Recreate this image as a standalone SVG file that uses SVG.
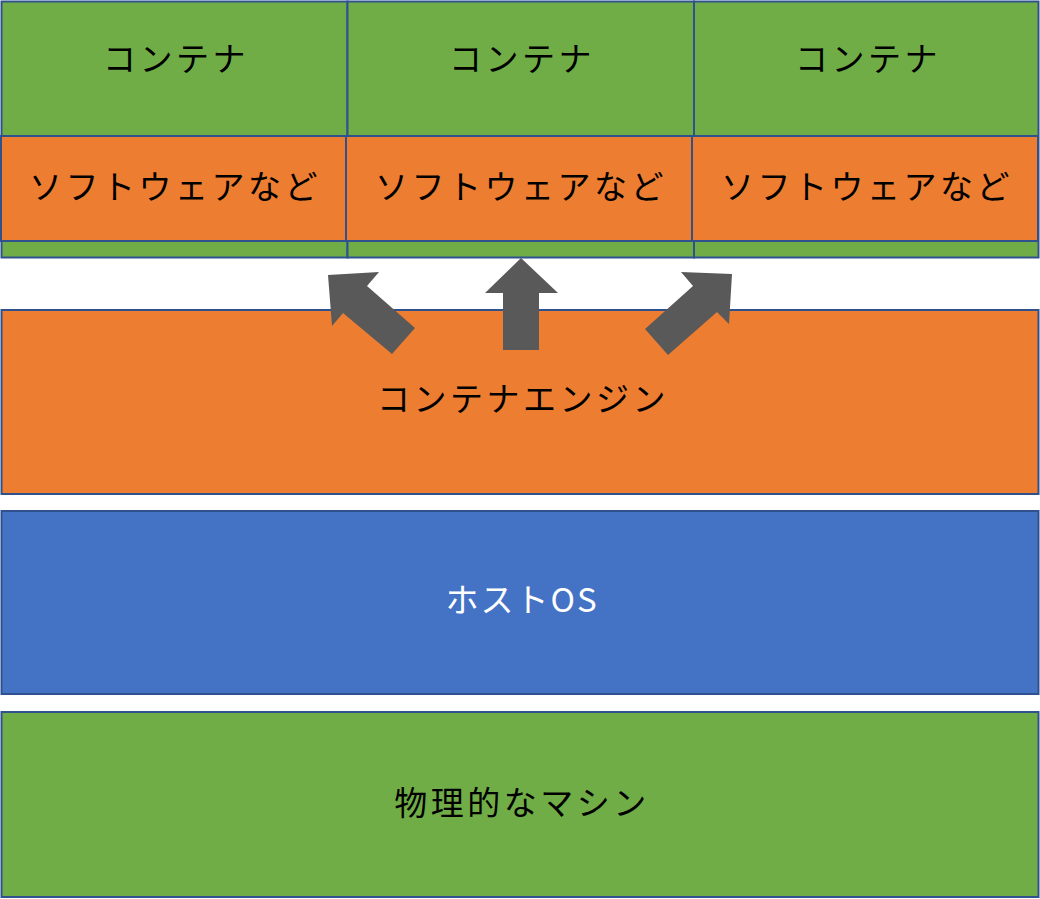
<svg xmlns="http://www.w3.org/2000/svg" width="1040" height="899" viewBox="0 0 1040 899">
<style>
.g{fill:#70AD47;stroke:#2F528F;stroke-width:2}
.o{fill:#ED7D31;stroke:#2F528F;stroke-width:2}
.b{fill:#4472C4;stroke:#2F528F;stroke-width:2}
.t{font-family:"Noto Sans CJK JP","Noto Sans",sans-serif;font-size:33px;letter-spacing:3.5px;text-anchor:middle;fill:#000}
.w{fill:#fff;letter-spacing:2px}
.ar{fill:#595959}
</style>
<rect width="1040" height="899" fill="#fff"/>
<g id="container1"><rect class="g" x="1.5" y="1.5" width="346" height="256"/><text class="t" x="176" y="71">コンテナ</text></g>
<g id="container2"><rect class="g" x="347.5" y="1.5" width="346.5" height="256"/><text class="t" x="522" y="71">コンテナ</text></g>
<g id="container3"><rect class="g" x="694" y="1.5" width="344.5" height="256"/><text class="t" x="868" y="71">コンテナ</text></g>
<g id="software1"><rect class="o" x="1" y="136" width="345" height="105"/><text class="t" x="175" y="199">ソフトウェアなど</text></g>
<g id="software2"><rect class="o" x="346" y="136" width="346" height="105"/><text class="t" x="521" y="199">ソフトウェアなど</text></g>
<g id="software3"><rect class="o" x="692" y="136" width="346" height="105"/><text class="t" x="867" y="199">ソフトウェアなど</text></g>
<g id="engine"><rect class="o" x="1.5" y="310" width="1037" height="184"/><text class="t" x="523" y="411">コンテナエンジン</text></g>
<g id="hostos"><rect class="b" x="1.5" y="511" width="1037" height="183"/><text class="t w" x="522" y="612">ホストOS</text></g>
<g id="machine"><rect class="g" x="1.5" y="712" width="1037" height="185"/><text class="t" x="522" y="815">物理的なマシン</text></g>
<g id="connectors">
<polygon class="ar" points="328,275 379,272 367,286 415,328 392,354 343,313 332,326"/>
<polygon class="ar" points="521,258 558,293 539,293 539,350 503,350 503,293 485,293"/>
<polygon class="ar" points="732,274 729,324 717,312 668,355 645,329 693,286 681,272"/>
</g>
</svg>
